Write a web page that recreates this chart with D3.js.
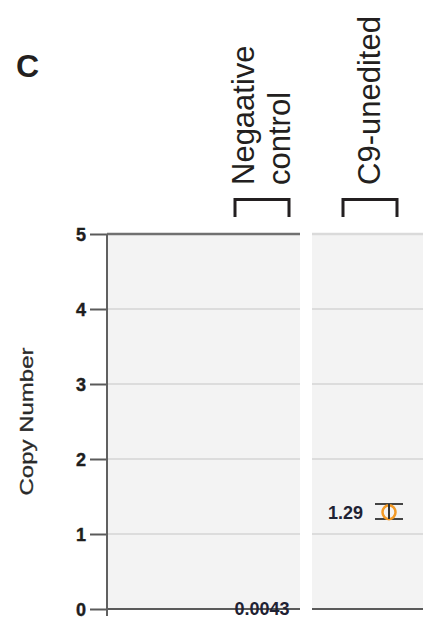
<!DOCTYPE html>
<html><head><meta charset="utf-8">
<script src="https://cdn.jsdelivr.net/npm/d3@7"></script>
<style>body{margin:0;background:#fff}svg{display:block}</style>
</head><body>
<svg id="c" width="433" height="635"></svg>
<script>
// ---- data ----
const categories = ["Negaative control", "C9-unedited"];
const headerLines = [["Negaative", "control"], ["C9-unedited"]];
const values = [0.0043, 1.29];
const errLow = [0.0043, 1.20];
const errHigh = [0.0043, 1.40];
const valueLabels = ["0.0043", "1.29"];
const yTicks = [0, 1, 2, 3, 4, 5];
const yLabel = "Copy Number";
const panelLetter = "C";

const svg = d3.select("#c");
const y = d3.scaleLinear().domain([0, 5]).range([609, 234]);
const x = d3.scaleBand().domain(categories).range([208, 424]);
const panels = [{x0: 107, x1: 300, topColor: "#707070"}, {x0: 312, x1: 423, topColor: "#dadada"}];

// panel letter
svg.append("text").attr("x", 16).attr("y", 77).text(panelLetter)
  .attr("font-family", "Liberation Sans, Arial, sans-serif").attr("font-weight", "bold")
  .attr("font-size", 32).attr("fill", "#231f20");

// headers
categories.forEach((c, i) => {
  const cx = x(c) + x.bandwidth() / 2;
  const lines = headerLines[i];
  const n = lines.length;
  lines.forEach((ln, j) => {
    const bx = cx + 10 + (j - (n - 1)) * 36 + (n === 1 ? 0 : 18);
    svg.append("text").attr("transform", `translate(${bx},185) rotate(-90)`)
      .attr("text-anchor", "start").text(ln)
      .attr("font-family", "Liberation Sans, Arial, sans-serif").attr("font-size", 31)
      .attr("fill", "#231f20");
  });
  // bracket
  const bw = 27;
  svg.append("path").attr("d", `M${cx - bw},217V199.5H${cx + bw}V217`)
    .attr("fill", "none").attr("stroke", "#231f20").attr("stroke-width", 3);
});

// panels
panels.forEach(p => {
  svg.append("rect").attr("x", p.x0).attr("y", y(5)).attr("width", p.x1 - p.x0)
    .attr("height", y(0) - y(5)).attr("fill", "#f3f3f3");
  yTicks.filter(t => t > 0 && t < 5).forEach(t => {
    svg.append("line").attr("x1", p.x0).attr("x2", p.x1).attr("y1", y(t)).attr("y2", y(t))
      .attr("stroke", "#dcdcdc").attr("stroke-width", 2);
  });
  svg.append("line").attr("x1", p.x0).attr("x2", p.x1).attr("y1", y(5)).attr("y2", y(5))
    .attr("stroke", p.topColor).attr("stroke-width", 2.5);
  svg.append("line").attr("x1", p.x0).attr("x2", p.x1).attr("y1", y(0)).attr("y2", y(0))
    .attr("stroke", "#5a5a5a").attr("stroke-width", 2);
});

// y axis
const ax = svg.append("g").attr("transform", "translate(107,0)")
  .call(d3.axisLeft(y).tickValues(yTicks).tickSize(17).tickPadding(4).tickFormat(d3.format("d")));
ax.select(".domain").remove();
ax.append("line").attr("x1", 0).attr("x2", 0).attr("y1", y(5)).attr("y2", y(0) + 7)
  .attr("stroke", "#606060").attr("stroke-width", 2);
ax.selectAll(".tick line").attr("stroke", "#5a5a5a").attr("stroke-width", 2);
ax.selectAll(".tick text").attr("font-family", "Liberation Sans, Arial, sans-serif")
  .attr("font-weight", "bold").attr("font-size", 18).attr("fill", "#1e1e1e").attr("dy", "0.36em")
  .attr("stroke", "#1e1e1e").attr("stroke-width", 0.4);

// y label
svg.append("text").attr("transform", `translate(33,${(y(0) + y(5)) / 2}) rotate(-90)`)
  .attr("text-anchor", "middle").text(yLabel)
  .attr("textLength", 148).attr("lengthAdjust", "spacingAndGlyphs")
  .attr("font-family", "Liberation Sans, Arial, sans-serif").attr("font-size", 19)
  .attr("fill", "#2a2a2a").attr("stroke", "#2a2a2a").attr("stroke-width", 0.3);

// points
categories.forEach((c, i) => {
  const cx = x(c) + x.bandwidth() / 2;
  const v = values[i];
  const mx = cx + 19;
  const lab = svg.append("text").text(valueLabels[i])
    .attr("font-family", "Liberation Sans, Arial, sans-serif").attr("font-weight", "bold")
    .attr("font-size", 18).attr("fill", "#1f2233").attr("dy", "0.36em");
  if (v < 0.01) {
    // below detection: label centered on the category, no marker drawn
    lab.attr("x", cx).attr("y", y(v)).attr("text-anchor", "middle");
    return;
  }
  lab.attr("x", mx - 26).attr("y", y(v)).attr("text-anchor", "end");
  const g = svg.append("g");
  [errLow[i], errHigh[i]].forEach(e => {
    g.append("line").attr("x1", mx - 14).attr("x2", mx + 14).attr("y1", y(e)).attr("y2", y(e))
      .attr("stroke", "#444").attr("stroke-width", 2);
  });
  g.append("ellipse").attr("cx", mx).attr("cy", y(v)).attr("rx", 6.5).attr("ry", 7)
    .attr("fill", "none").attr("stroke", "#f39a26").attr("stroke-width", 2.5);
  g.append("line").attr("x1", mx).attr("x2", mx).attr("y1", y(errHigh[i])).attr("y2", y(errLow[i]))
    .attr("stroke", "#333").attr("stroke-width", 2);
});
</script>
</body></html>
